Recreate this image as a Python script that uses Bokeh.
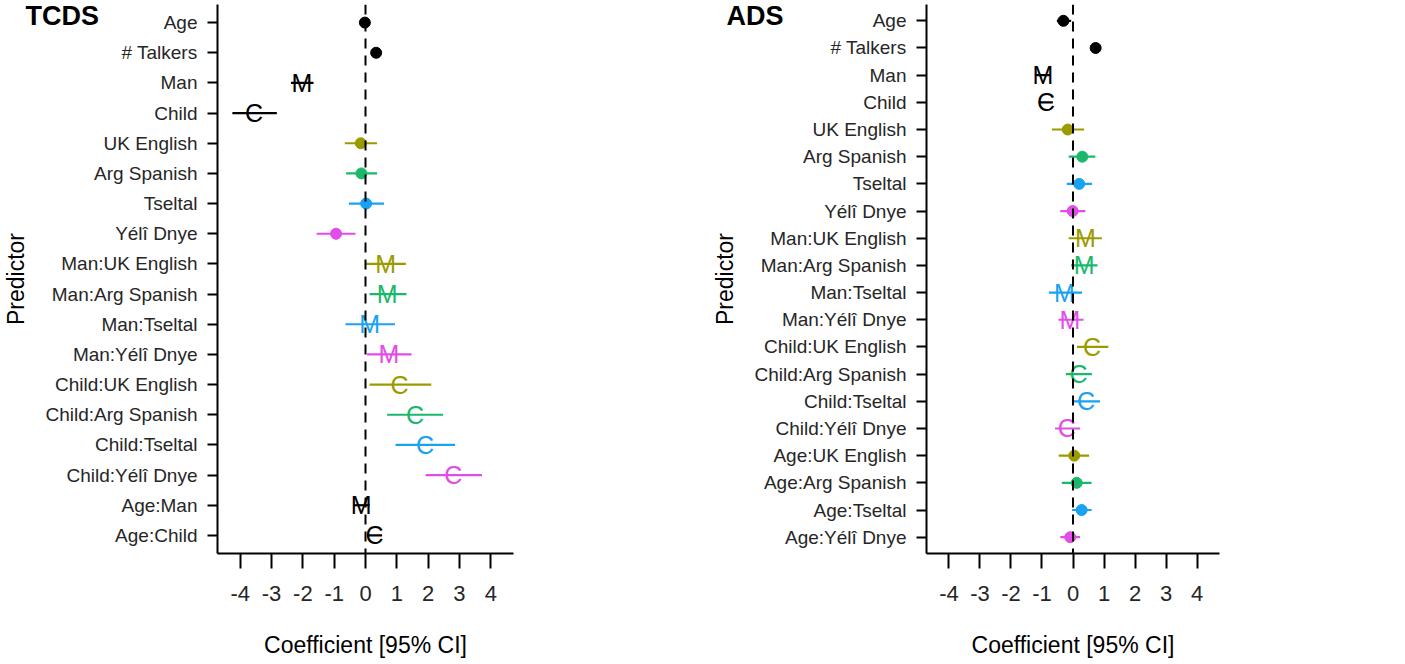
from bokeh.plotting import figure
from bokeh.layouts import row
from bokeh.models import Range1d, FixedTicker, Span, Title, ColumnDataSource
from bokeh.embed import file_html
from bokeh.resources import INLINE
from bokeh.core.properties import value

FONT = "Liberation Sans"

# ---------------- data ----------------
tcds_terms = ["Age", "# Talkers", "Man", "Child", "UK English", "Arg Spanish", "Tseltal", "Yélî Dnye",
              "Man:UK English", "Man:Arg Spanish", "Man:Tseltal", "Man:Yélî Dnye",
              "Child:UK English", "Child:Arg Spanish", "Child:Tseltal", "Child:Yélî Dnye",
              "Age:Man", "Age:Child"]
tcds_est = [-0.02, 0.34, -2.03, -3.56, -0.15, -0.13, 0.02, -0.94, 0.64, 0.69, 0.13, 0.75,
            1.09, 1.58, 1.90, 2.80, -0.14, 0.29]
tcds_lo = [-0.12, 0.30, -2.38, -4.25, -0.66, -0.62, -0.53, -1.56, 0.02, 0.13, -0.64, 0.05,
           0.13, 0.69, 0.96, 1.92, -0.37, 0.05]
tcds_hi = [0.08, 0.38, -1.66, -2.83, 0.37, 0.37, 0.59, -0.32, 1.29, 1.31, 0.94, 1.47,
           2.10, 2.48, 2.86, 3.72, 0.13, 0.53]

ads_terms = ["Age", "# Talkers", "Man", "Child", "UK English", "Arg Spanish", "Tseltal", "Yélî Dnye",
             "Man:UK English", "Man:Arg Spanish", "Man:Tseltal", "Man:Yélî Dnye",
             "Child:UK English", "Child:Arg Spanish", "Child:Tseltal", "Child:Yélî Dnye",
             "Age:UK English", "Age:Arg Spanish", "Age:Tseltal", "Age:Yélî Dnye"]
ads_est = [-0.31, 0.73, -0.97, -0.87, -0.17, 0.30, 0.20, -0.01, 0.40, 0.36, -0.28, -0.10,
           0.61, 0.18, 0.42, -0.20, 0.04, 0.12, 0.28, -0.09]
ads_lo = [-0.52, 0.69, -1.21, -1.10, -0.68, -0.14, -0.20, -0.41, -0.14, -0.06, -0.78, -0.47,
          0.13, -0.23, -0.03, -0.58, -0.46, -0.36, -0.03, -0.41]
ads_hi = [-0.06, 0.77, -0.74, -0.65, 0.36, 0.72, 0.61, 0.40, 0.93, 0.79, 0.29, 0.34,
          1.14, 0.61, 0.87, 0.23, 0.52, 0.60, 0.60, 0.23]

x_ticks = [-4, -3, -2, -1, 0, 1, 2, 3, 4]
x_tick_labels = ["-4", "-3", "-2", "-1", "0", "1", "2", "3", "4"]
languages = ["UK English", "Arg Spanish", "Tseltal", "Yélî Dnye"]
language_colors = ["#9b9b00", "#1bb86b", "#18a2f1", "#e14de9"]

XLIM = 4.725
FRAME_H = 549
BORDER_TOP = 4
BORDER_BOTTOM = 103
TEXT_COL = "#262626"


def make_panel(title, terms, est, lo, hi, border_left, frame_w, border_right, title_x):
    n = len(terms)
    ys = [n - 1 - i for i in range(n)]
    colors, shapes = [], []
    for t in terms:
        parts = t.split(":")
        col = "black"
        for lang, c in zip(languages, language_colors):
            if lang in parts:
                col = c
        colors.append(col)
        if "Man" in parts:
            shapes.append("M")
        elif "Child" in parts:
            shapes.append("C")
        else:
            shapes.append("dot")
    p = figure(frame_width=frame_w, frame_height=FRAME_H,
               x_range=Range1d(-XLIM, XLIM), y_range=Range1d(-0.6, n - 0.4),
               output_backend="svg", toolbar_location=None,
               min_border_left=border_left, min_border_right=border_right,
               min_border_top=BORDER_TOP, min_border_bottom=BORDER_BOTTOM)
    p.outline_line_color = None
    p.xgrid.visible = False
    p.ygrid.visible = False
    p.background_fill_color = "white"

    src = ColumnDataSource(dict(y=ys, est=est, lo=lo, hi=hi, color=colors, shape=shapes))
    p.add_layout(Span(location=0, dimension="height", line_color="black",
                      line_dash="10 7", line_width=2))
    p.segment(x0="lo", y0="y", x1="hi", y1="y", source=src, line_color="color", line_width=2.2)
    dots = ColumnDataSource(dict(
        y=[y for y, s in zip(ys, shapes) if s == "dot"],
        est=[e for e, s in zip(est, shapes) if s == "dot"],
        color=[c for c, s in zip(colors, shapes) if s == "dot"]))
    p.scatter(x="est", y="y", source=dots, size=11, fill_color="color", line_color="color")
    lets = ColumnDataSource(dict(
        y=[y for y, s in zip(ys, shapes) if s != "dot"],
        est=[e for e, s in zip(est, shapes) if s != "dot"],
        color=[c for c, s in zip(colors, shapes) if s != "dot"],
        shape=[s for s in shapes if s != "dot"]))
    p.text(x="est", y="y", text="shape", source=lets, text_color="color",
           text_font=value(FONT), text_font_size="25px",
           text_align="center", text_baseline="middle")

    xa = p.xaxis[0]
    xa.ticker = FixedTicker(ticks=x_ticks)
    xa.major_label_overrides = dict(zip(x_ticks, x_tick_labels))
    xa.minor_tick_line_color = None
    xa.major_tick_in = 0
    xa.major_tick_out = 15
    xa.major_tick_line_width = 2
    xa.axis_line_width = 2
    xa.major_label_text_font = FONT
    xa.major_label_text_font_size = "22px"
    xa.major_label_text_color = TEXT_COL
    xa.major_label_standoff = 17
    xa.axis_label = "Coefficient [95% CI]"
    xa.axis_label_text_font = FONT
    xa.axis_label_text_font_size = "23px"
    xa.axis_label_text_font_style = "normal"
    xa.axis_label_text_color = "black"
    xa.axis_label_standoff = 28

    ya = p.yaxis[0]
    ya.ticker = FixedTicker(ticks=ys)
    ya.major_label_overrides = {y: t for y, t in zip(ys, terms)}
    ya.minor_tick_line_color = None
    ya.major_tick_in = 0
    ya.major_tick_out = 10
    ya.major_tick_line_width = 2
    ya.axis_line_width = 2
    ya.major_label_text_font = FONT
    ya.major_label_text_font_size = "19px"
    ya.major_label_text_color = TEXT_COL
    ya.major_label_standoff = 10
    ya.axis_label = "Predictor"
    ya.axis_label_text_font = FONT
    ya.axis_label_text_font_size = "23px"
    ya.axis_label_text_font_style = "normal"
    ya.axis_label_text_color = "black"
    ya.axis_label_standoff = 13

    p.add_layout(Title(text=title, align="left", offset=title_x - border_left,
                       text_font=FONT, text_font_size="27px", text_font_style="bold",
                       text_color="black", standoff=-53), "above")
    return p


p1 = make_panel("TCDS", tcds_terms, tcds_est, tcds_lo, tcds_hi, 217, 296, 187, 25)
p2 = make_panel("ADS", ads_terms, ads_est, ads_lo, ads_hi, 226, 293, 170, 26)
p = row(p1, p2)
open("out.html", "w").write(file_html(p, INLINE))
